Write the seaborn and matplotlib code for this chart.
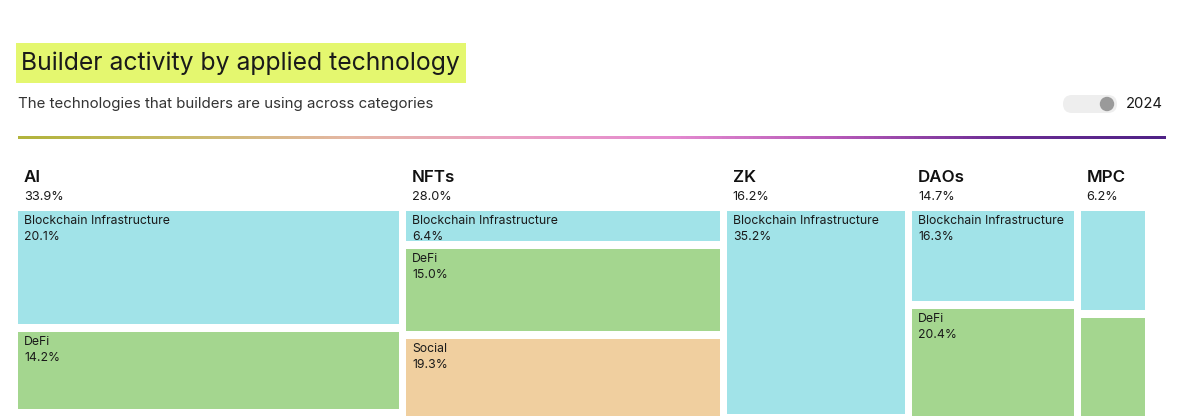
import numpy as np
import pandas as pd
import matplotlib
matplotlib.use("Agg")
import matplotlib.pyplot as plt
import seaborn as sns
from matplotlib.colors import LinearSegmentedColormap
from matplotlib.patches import FancyBboxPatch, Circle, Rectangle

# данные
categories = ["AI", "NFTs", "ZK", "DAOs", "MPC"]
category_share = [33.9, 28.0, 16.2, 14.7, 6.2]

tech_names = {
    "AI": ["Blockchain Infrastructure", "DeFi"],
    "NFTs": ["Blockchain Infrastructure", "DeFi", "Social"],
    "ZK": ["Blockchain Infrastructure"],
    "DAOs": ["Blockchain Infrastructure", "DeFi"],
    "MPC": ["Blockchain Infrastructure", "DeFi"],
}
tech_share = {
    "AI": [20.1, 14.2],
    "NFTs": [6.4, 15.0, 19.3],
    "ZK": [35.2],
    "DAOs": [16.3, 20.4],
    "MPC": [17.8, 20.0],
}
tech_colors = {"Blockchain Infrastructure": "#a1e3e8",
               "DeFi": "#a4d68f",
               "Social": "#f0cf9f"}

rows = []
x0 = 0.0
for cat, share in zip(categories, category_share):
    y0 = 0.0
    for name, val in zip(tech_names[cat], tech_share[cat]):
        rows.append(dict(category=cat, tech=name, x=x0, width=share, y=y0, height=val))
        y0 += val
    x0 += share
df = pd.DataFrame(rows)

sns.set_theme(style="white")
plt.rcParams['font.family'] = ['Inter', 'DejaVu Sans']

fig = plt.figure(figsize=(12, 4.16), dpi=100)

# оформление в пикселях
deco = fig.add_axes([0, 0, 1, 1])
deco.set_xlim(0, 1200)
deco.set_ylim(416, 0)
deco.axis("off")

deco.add_patch(Rectangle((16, 43), 450, 40, color="#e4f76f", lw=0, zorder=1))
deco.text(21, 63, "Builder activity by applied technology", fontsize=17.8,
          color="#1a1a1a", va="center", ha="left", zorder=2)
deco.text(18, 104, "The technologies that builders are using across categories",
          fontsize=10.85, color="#333333", va="center", ha="left")

grad = LinearSegmentedColormap.from_list(
    "bar", ["#b2b43c", "#c9bb6a", "#e5b7a4", "#eba0c4", "#e48ad0", "#b659b8", "#6d2e95", "#4f2286"])
deco.imshow(np.linspace(0, 1, 300)[None, :], cmap=grad, aspect="auto",
            extent=[18, 1166, 139.5, 136.5], zorder=1)
deco.set_xlim(0, 1200)
deco.set_ylim(416, 0)

# переключатель
deco.add_patch(FancyBboxPatch((1063, 95), 54, 18, boxstyle="round,pad=0,rounding_size=9",
                              fc="#eeeeee", ec="none", zorder=2))
deco.add_patch(Circle((1107, 104), 7.2, fc="#9a9a9a", ec="none", zorder=3))
deco.text(1126, 104, "2024", fontsize=10.7, color="#1a1a1a", va="center", ha="left")

# treemap: 11.45 px на процент по x, 6 px на процент по y
kx, ky = 11.45, 6.0
ax = fig.add_axes([0, 0, 1, 1])
ax.set_xlim(-18 / kx, (1200 - 18) / kx)
ax.set_ylim((416 - 211) / ky, -211 / ky)
ax.axis("off")
ax.patch.set_alpha(0)

gap_x, gap_y = 7 / kx, 8 / ky
for _, r in df.iterrows():
    ax.bar(r.x, r.height - gap_y, width=r.width - gap_x, bottom=r.y, align="edge",
           color=tech_colors[r.tech], edgecolor="none")
    if r.width > 10:
        ax.text(r.x + 6 / kx, r.y + 10 / ky, r.tech, fontsize=8.8, color="#1a1a1a",
                va="center", ha="left")
        ax.text(r.x + 6 / kx, r.y + 26 / ky, f"{r.height:.1f}%", fontsize=8.8,
                color="#1a1a1a", va="center", ha="left")

x0 = 0.0
for cat, share in zip(categories, category_share):
    ax.text(x0 + 6 / kx, -33.5 / ky, cat, fontsize=12.2, fontweight="semibold",
            color="#111111", va="center", ha="left")
    ax.text(x0 + 6 / kx, -14 / ky, f"{share:.1f}%", fontsize=9.2,
            color="#1a1a1a", va="center", ha="left")
    x0 += share

fig.savefig("out.png", dpi=100)
